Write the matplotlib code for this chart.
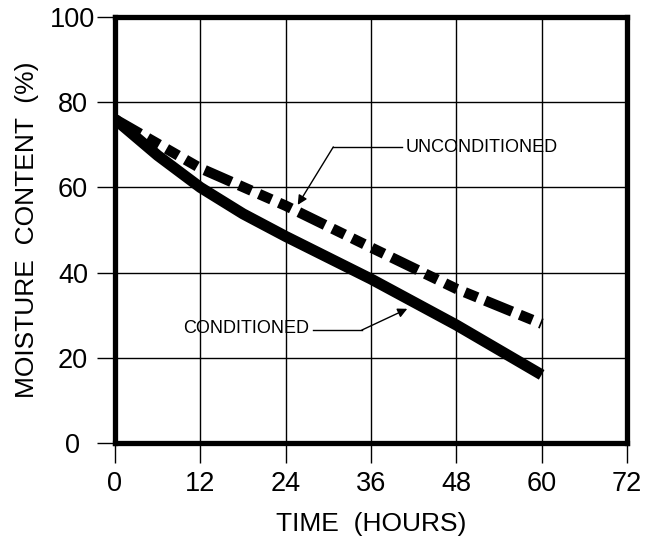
import matplotlib
matplotlib.use("Agg")
import matplotlib.pyplot as plt

hours_cond = [0, 6, 12, 18, 24, 30, 36, 48, 60]
conditioned = [76, 67.5, 60, 53.8, 48.5, 43.5, 38.5, 27.7, 16]
hours_uncond = [0, 12, 24, 36, 48, 60]
unconditioned = [76, 64.5, 55.7, 45.9, 36.2, 28]
x_ticks = [0, 12, 24, 36, 48, 60, 72]
y_ticks = [0, 20, 40, 60, 80, 100]

plt.rcParams['font.family'] = ['Liberation Sans', 'DejaVu Sans']

fig = plt.figure(figsize=(6.5, 5.41), dpi=100)
ax = fig.add_axes([115/650, 1 - 443/541, 512/650, 426/541])
ax.set_xlim(0, 72)
ax.set_ylim(0, 100)
ax.set_xticks(x_ticks)
ax.set_yticks(y_ticks)
ax.grid(True, color='black', linewidth=1.0)
for s in ax.spines.values():
    s.set_linewidth(3.8)
    s.set_zorder(5)
ax.tick_params(axis='x', length=14.5, width=1.0, pad=5.5, labelsize=19.5)
ax.tick_params(axis='y', length=13, width=1.0, pad=17.3, labelsize=19.5)
for lab in ax.get_yticklabels():
    lab.set_horizontalalignment('center')

ax.plot(hours_cond, conditioned, color='black', linewidth=8, solid_capstyle='butt',
        solid_joinstyle='round', zorder=4)
ax.plot(hours_uncond, unconditioned, color='black', linewidth=7.5,
        dashes=(2.8, 0.8, 1.3, 0.8, 1.3, 0.8, 1.3, 0.8), zorder=4)

ax.set_xlabel('TIME  (HOURS)', fontsize=19, labelpad=11)
ax.set_ylabel('MOISTURE  CONTENT  (%)', fontsize=19, labelpad=8)

ax.text(40.8, 69.4, 'UNCONDITIONED', fontsize=13, va='center', ha='left')
ax.plot([40.4, 30.7], [69.5, 69.5], color='black', linewidth=1.0, zorder=3)
ax.annotate('', xy=(25.7, 55.9), xytext=(30.7, 69.5),
            arrowprops=dict(arrowstyle='-|>', color='black', lw=1.0, mutation_scale=14, shrinkA=0, shrinkB=0))

ax.text(9.6, 26.8, 'CONDITIONED', fontsize=13, va='center', ha='left')
ax.plot([27.8, 34.7], [26.5, 26.5], color='black', linewidth=1.0, zorder=3)
ax.annotate('', xy=(41.1, 31.5), xytext=(34.7, 26.5),
            arrowprops=dict(arrowstyle='-|>', color='black', lw=1.0, mutation_scale=14, shrinkA=0, shrinkB=0))

fig.savefig('out.png', dpi=100)
